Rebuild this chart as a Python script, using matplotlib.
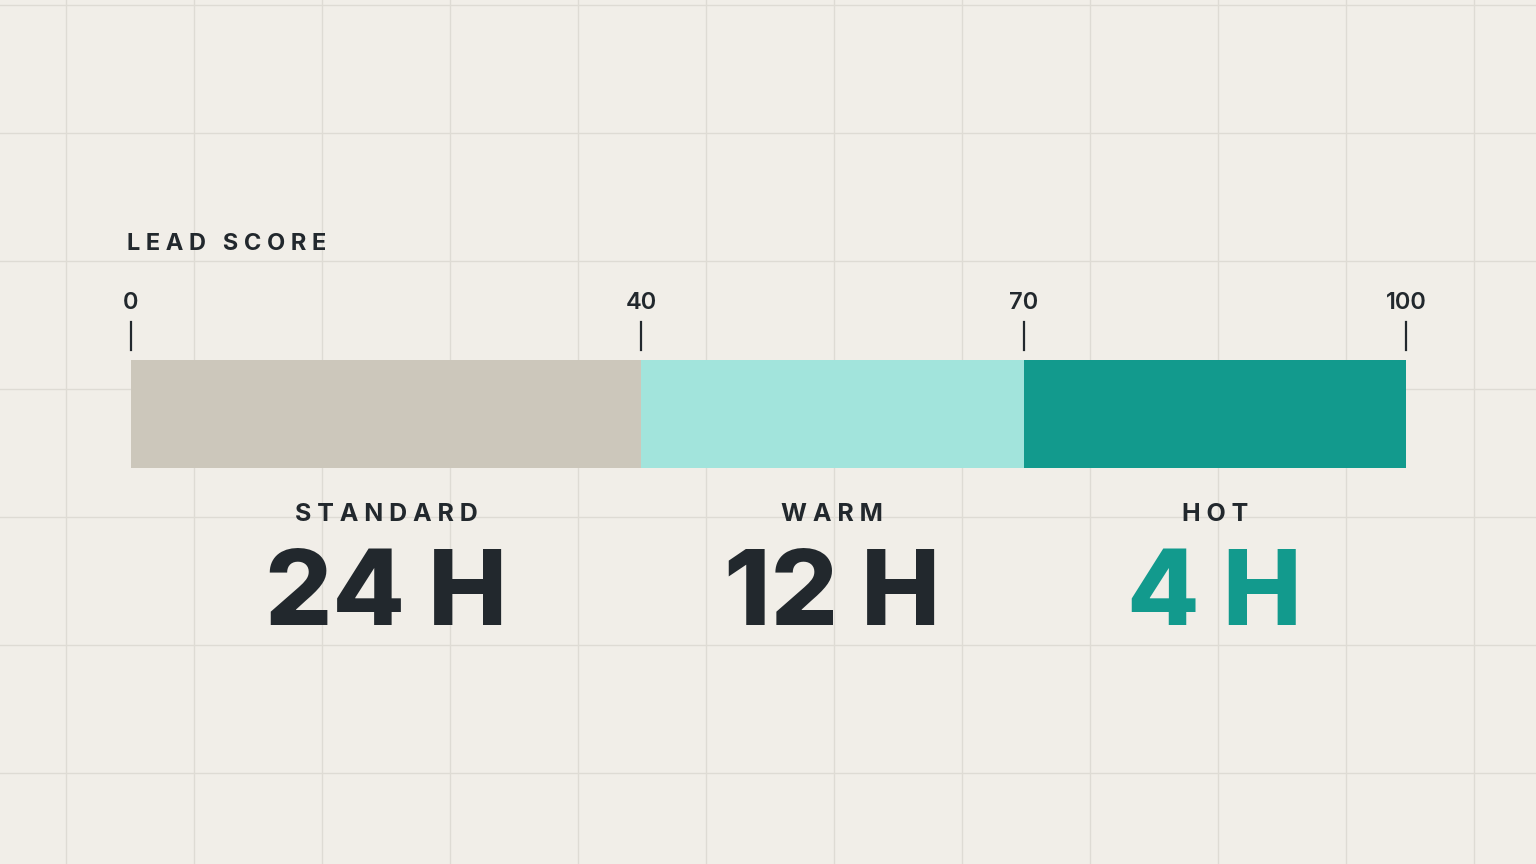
import matplotlib
matplotlib.use("Agg")
import matplotlib.pyplot as plt
from matplotlib.lines import Line2D

bounds = [0, 40, 70, 100]
names = ["STANDARD", "WARM", "HOT"]
times = ["24 H", "12 H", "4 H"]
colors = ["#CCC7BB", "#A2E4DC", "#129A8D"]
time_colors = ["#22282D", "#22282D", "#129A8D"]

W, H = 1536, 864
fig = plt.figure(figsize=(W/100, H/100), dpi=100, facecolor="#F1EEE8")
bg = fig.add_axes([0, 0, 1, 1]); bg.set_xlim(0, W); bg.set_ylim(H, 0); bg.axis("off")
for x in range(66, W, 128):
    bg.axvline(x, color="#DEDBD4", lw=1)
for y in range(5, H, 128):
    bg.axhline(y, color="#DEDBD4", lw=1)

ax = fig.add_axes([131/W, (H-468)/H, 1275/W, 108/H])
ax.set_xlim(0, 100); ax.set_ylim(0, 1); ax.axis("off")
for i in range(3):
    ax.barh(0.5, bounds[i+1]-bounds[i], left=bounds[i], height=1, color=colors[i])
tr = ax.get_xaxis_transform()
fam = ["Inter", "DejaVu Sans"]
for b in bounds:
    ax.add_line(Line2D([b, b], [1.09, 1.35], transform=tr, color="#22282D", lw=1.6, clip_on=False))
    ax.text(b, 1.53, str(b), transform=tr, ha="center", va="center", fontsize=17,
            fontweight="semibold", color="#22282D", family=fam)
ax.text(-0.3, 2.07, "L E A D   S C O R E", transform=tr, ha="left", va="center", fontsize=17,
        fontweight="bold", color="#22282D", family=fam)
for i in range(3):
    mid = (bounds[i] + bounds[i+1]) / 2
    ax.text(mid, -0.435, " ".join(names[i]), transform=tr, ha="center", va="center",
            fontsize=18, fontweight="bold", color="#22282D", family=fam)
    ax.text(mid, -1.2, times[i], transform=tr, ha="center", va="center",
            fontsize=76, fontweight="heavy", color=time_colors[i], family=fam)
fig.savefig("out.png", dpi=100, facecolor=fig.get_facecolor())
